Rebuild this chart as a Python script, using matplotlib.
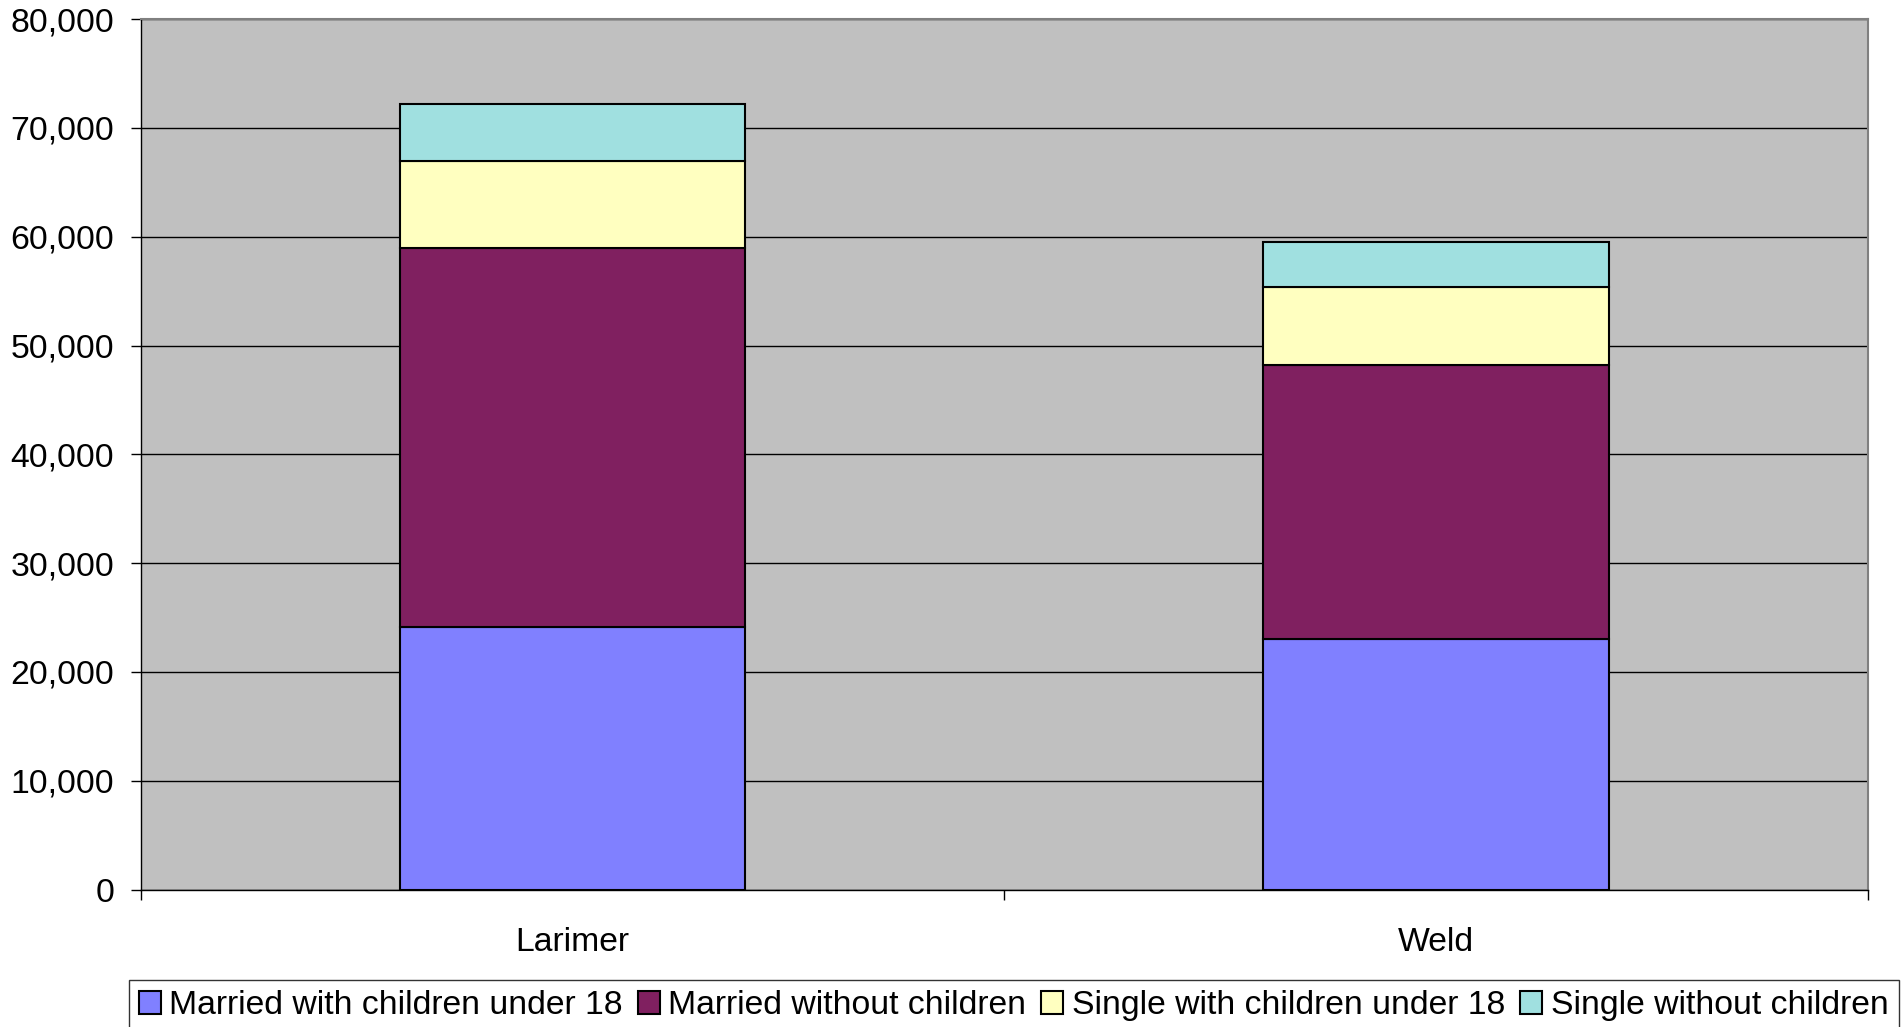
import matplotlib
matplotlib.use("Agg")
import matplotlib.pyplot as plt
import numpy as np
from matplotlib.ticker import FuncFormatter

plt.rcParams['font.family'] = ['Liberation Sans', 'DejaVu Sans']

counties = ['Larimer', 'Weld']
series_names = ['Married with children under 18', 'Married without children',
                'Single with children under 18', 'Single without children']
married_kids = [24100, 23030]
married_no_kids = [34830, 25180]
single_kids = [8000, 7200]
single_no_kids = [5270, 4080]
colors = ['#8080FF', '#802060', '#FFFFC0', '#A0E0E0']

fig = plt.figure(figsize=(19.02, 10.27), dpi=100)
ax = fig.add_axes([140.7 / 1902, 1 - 889.6 / 1027, (1868 - 140.7) / 1902, (889.6 - 19.2) / 1027])
ax.set_facecolor('#C0C0C0')

x = np.arange(len(counties))
bottom = np.zeros(len(counties))
for vals, name, c in zip([married_kids, married_no_kids, single_kids, single_no_kids], series_names, colors):
    ax.bar(x, vals, width=0.4, bottom=bottom, color=c, edgecolor='black', linewidth=1.5, label=name, zorder=3)
    bottom += np.array(vals)

ax.set_xlim(-0.5, 1.5)
ax.set_ylim(0, 80000)
ax.set_yticks(np.arange(0, 80001, 10000))
ax.yaxis.set_major_formatter(FuncFormatter(lambda v, p: f'{int(v):,}'))
ax.yaxis.grid(True, color='black', linewidth=1.0, zorder=1)
ax.set_axisbelow(True)

ax.set_xticks(x)
ax.set_xticklabels(counties)
ax.set_xticks([-0.5, 0.5, 1.5], minor=True)
ax.tick_params(axis='x', which='major', length=0, pad=27, labelsize=24.3)
ax.tick_params(axis='x', which='minor', length=7, width=1, color='black')
ax.tick_params(axis='y', length=7, width=1, pad=12, labelsize=24.3)

for s in ['top', 'right']:
    ax.spines[s].set_color('#808080')
    ax.spines[s].set_linewidth(1.5)
for s in ['left', 'bottom']:
    ax.spines[s].set_color('black')
    ax.spines[s].set_linewidth(1.0)

leg = fig.legend(loc='upper left', bbox_to_anchor=(128.6 / 1902, 1 - 980 / 1027), ncol=4,
                 fontsize=24.3, frameon=True, fancybox=False, edgecolor='black',
                 handlelength=0.65, handleheight=0.65, handletextpad=0.25,
                 columnspacing=0.45, borderpad=0.3, borderaxespad=0)
leg.get_frame().set_linewidth(1.0)

fig.savefig('out.png', dpi=100)
